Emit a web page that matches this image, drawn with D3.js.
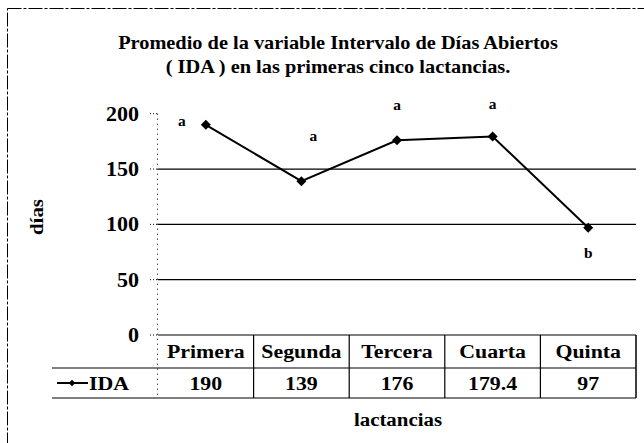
<!DOCTYPE html>
<html><head><meta charset="utf-8">
<script src="https://cdn.jsdelivr.net/npm/d3@7"></script>
<style>body{margin:0;background:#fff}svg{display:block}text{font-family:"Liberation Serif","Times New Roman",serif;font-weight:bold;fill:#000}</style>
</head><body>
<script>
const categories = ["Primera","Segunda","Tercera","Cuarta","Quinta"];
const values = [190,139,176,179.4,97];
const valueLabels = ["190","139","176","179.4","97"];
const letters = ["a","a","a","a","b"];
const yTicks = [0,50,100,150,200];
const seriesName = "IDA";
const titleLines = ["Promedio de la variable Intervalo de Días Abiertos","( IDA ) en las primeras cinco lactancias."];

const W=644,H=443;
const svg=d3.select("body").append("svg").attr("width",W).attr("height",H);
const tf=(x,y,sx)=>`translate(${x},${y}) scale(${sx},1)`;
// frame
svg.append("rect").attr("x",7.5).attr("y",8.5).attr("width",640).attr("height",440)
  .attr("fill","none").attr("stroke","#000").attr("stroke-width",1).attr("stroke-dasharray","14,2,3,2");

const x=d3.scaleBand().domain(categories).range([158,636]);
const y=d3.scaleLinear().domain([0,200]).range([335,113.7]);

// title
svg.selectAll(".title").data(titleLines).join("text")
  .attr("transform",(d,i)=>tf(338,49+i*24,1.1)).attr("text-anchor","middle").attr("font-size",18.5).text(d=>d);

// gridlines
svg.selectAll(".grid").data(yTicks.filter(t=>t<200)).join("line")
  .attr("x1",158).attr("x2",636).attr("y1",d=>y(d)).attr("y2",d=>y(d))
  .attr("stroke","#000").attr("stroke-width",1.2);
// axis (dotted)
svg.append("line").attr("x1",157.5).attr("x2",157.5).attr("y1",y(200)).attr("y2",398)
  .attr("stroke","#000").attr("stroke-width",1).attr("stroke-dasharray","1,4");
svg.selectAll(".tickm").data(yTicks).join("line")
  .attr("x1",150).attr("x2",157).attr("y1",d=>y(d)).attr("y2",d=>y(d))
  .attr("stroke","#000").attr("stroke-width",1).attr("stroke-dasharray","1,2");
svg.selectAll(".ytl").data(yTicks).join("text")
  .attr("transform",d=>tf(139,y(d)+7,1.1)).attr("text-anchor","end").attr("font-size",20).text(d=>d);
svg.append("text").attr("transform","translate(43,217) rotate(-90) scale(1.1,1)").attr("text-anchor","middle")
  .attr("font-size",19).text("días");

// table
const tTop=335,tMid=368,tBot=398,legL=52;
svg.append("line").attr("x1",legL).attr("x2",636).attr("y1",tMid).attr("y2",tMid).attr("stroke","#000").attr("stroke-width",1.2);
svg.append("line").attr("x1",legL).attr("x2",636).attr("y1",tBot).attr("y2",tBot).attr("stroke","#000").attr("stroke-width",1.2);
svg.selectAll(".vb").data(categories.slice(1)).join("line")
  .attr("x1",d=>x(d)).attr("x2",d=>x(d)).attr("y1",tTop).attr("y2",tBot).attr("stroke","#000").attr("stroke-width",1.2);
svg.append("line").attr("x1",636).attr("x2",636).attr("y1",tTop).attr("y2",tBot).attr("stroke","#000").attr("stroke-width",1.5);
svg.selectAll(".cat").data(categories).join("text")
  .attr("transform",d=>tf(x(d)+x.bandwidth()/2,358,1.15)).attr("text-anchor","middle").attr("font-size",19).text(d=>d);
svg.selectAll(".val").data(valueLabels).join("text")
  .attr("transform",(d,i)=>tf(x(categories[i])+x.bandwidth()/2,390,1.15)).attr("text-anchor","middle").attr("font-size",19).text(d=>d);
// legend in table
svg.append("line").attr("x1",57).attr("x2",88).attr("y1",383).attr("y2",383).attr("stroke","#000").attr("stroke-width",2);
svg.append("path").attr("d",d3.symbol(d3.symbolSquare,22)()).attr("transform","translate(72,383) rotate(45)");
svg.append("text").attr("transform",tf(89,390,1.15)).attr("font-size",19).text(seriesName);
svg.append("text").attr("transform",tf(398,426,1.1)).attr("text-anchor","middle").attr("font-size",19).text("lactancias");

// line
const cx=(d,i)=>x(categories[i])+x.bandwidth()/2;
svg.append("path").datum(values).attr("fill","none").attr("stroke","#000").attr("stroke-width",2)
  .attr("d",d3.line().x(cx).y(d=>y(d)));
svg.selectAll(".pt").data(values).join("path")
  .attr("d",d3.symbol(d3.symbolSquare,50)()).attr("transform",(d,i)=>`translate(${cx(d,i)},${y(d)}) rotate(45)`);

// letters
const letOff=[[-24,1],[12,-40],[0,-30],[0,-27],[0,30]];
svg.selectAll(".let").data(letters).join("text")
  .attr("transform",(d,i)=>tf(cx(values[i],i)+letOff[i][0],y(values[i])+letOff[i][1],1.1))
  .attr("text-anchor","middle").attr("font-size",14).text(d=>d);
</script>
</body></html>
